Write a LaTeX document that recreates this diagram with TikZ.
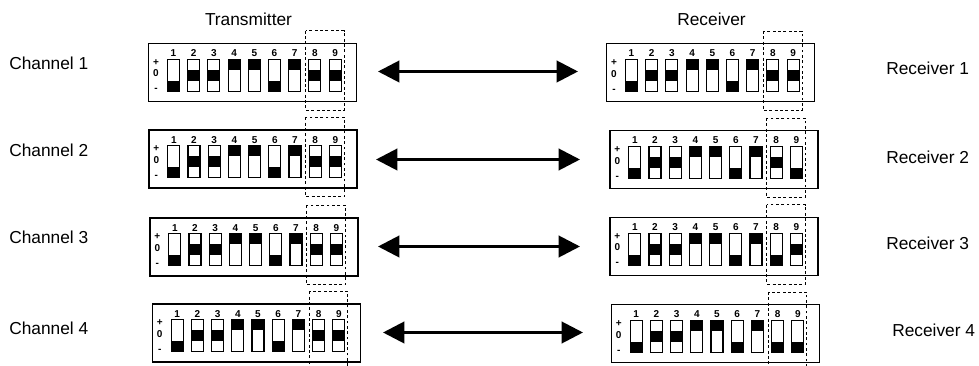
\documentclass[tikz,border=0pt]{standalone}
\usepackage{fontspec}
\setmainfont{Liberation Sans}
\usetikzlibrary{arrows.meta}

\tikzstyle{bank} = [draw=black,line width=1pt,rectangle,anchor=north west,inner sep=0pt,minimum width=156pt,minimum height=43.5pt]
\tikzstyle{slider} = [draw=black,line width=0.8pt]
\tikzstyle{knob} = [fill=black]
\tikzstyle{digit} = [font=\fontsize{7.5}{8}\selectfont\bfseries,inner sep=0pt]
\tikzstyle{group} = [draw=black,line width=0.7pt,dash pattern=on 2.2pt off 1.8pt]
\tikzstyle{link} = [draw=black,line width=2.2pt,{Triangle[length=16pt,width=16pt]}-{Triangle[length=16pt,width=16pt]}]
\tikzstyle{rowtext} = [font=\fontsize{13}{15}\selectfont,inner sep=0pt]

\newcommand{\dipbank}[4]{%
  \begin{scope}[shift={(#2,#3)}]
    \node [style=bank] (#1) at (0,0) {};
    \node [style=digit] (#1-up) at (8,19.6) {+};
    \node [style=digit] (#1-mid) at (8,30.6) {0};
    \node [style=digit] (#1-dn) at (8,47.5) {-};
    \foreach \p [count=\i] in {#4} {
      \pgfmathsetmacro{\sx}{19.5+(\i-1)*20.2}
      \node [style=digit] (#1-n\i) at ({\sx+6},10.5) {\i};
      \fill [style=knob] (\sx,{16.5+\p*10.667}) rectangle ++(12,10.667);
      \draw [style=slider] (\sx,16.5) rectangle ++(12,32);
    }
    \draw [style=group] (157.5,-12) rectangle (196,67.5);
  \end{scope}
}

\begin{document}
\begin{tikzpicture}[x=0.75pt,y=-0.75pt]
    \useasboundingbox (0,0) rectangle (979,366);

    % headings
    \node [style=rowtext] (tx) at (248.5,19) {Transmitter};
    \node [style=rowtext] (rx) at (711.5,19) {Receiver};

    % switch banks: 0 = +, 1 = 0, 2 = -
    \dipbank{tx1}{148}{42.7}{2,1,1,0,0,2,0,1,1}
    \dipbank{tx2}{148.3}{129.3}{2,1,1,0,0,2,0,1,1}
    \dipbank{tx3}{149.3}{217.3}{2,1,1,0,0,2,0,1,1}
    \dipbank{tx4}{151.7}{303.3}{2,1,1,0,0,2,0,1,1}

    \dipbank{rx1}{606}{43}{2,1,1,0,0,2,0,1,1}
    \dipbank{rx2}{609.3}{130}{2,1,1,0,0,2,0,1,2}
    \dipbank{rx3}{609.3}{216.7}{2,1,1,0,0,2,0,2,1}
    \dipbank{rx4}{610.7}{304}{2,1,1,0,0,2,0,2,2}

    % row names
    \node [style=rowtext,anchor=west] (ch1) at (9,63) {Channel 1};
    \node [style=rowtext,anchor=west] (ch2) at (9,150) {Channel 2};
    \node [style=rowtext,anchor=west] (ch3) at (9,237) {Channel 3};
    \node [style=rowtext,anchor=west] (ch4) at (9,328) {Channel 4};

    \node [style=rowtext,anchor=west] (re1) at (886,68) {Receiver 1};
    \node [style=rowtext,anchor=west] (re2) at (886,157) {Receiver 2};
    \node [style=rowtext,anchor=west] (re3) at (886,243) {Receiver 3};
    \node [style=rowtext,anchor=west] (re4) at (892,330) {Receiver 4};

    % pairing arrows
    \coordinate (a1l) at (378,71.5);
    \coordinate (a1r) at (578,71.5);
    \coordinate (a2l) at (376,159.5);
    \coordinate (a2r) at (580,159.5);
    \coordinate (a3l) at (378,246.5);
    \coordinate (a3r) at (580,246.5);
    \coordinate (a4l) at (383,332.5);
    \coordinate (a4r) at (583,332.5);

    \draw [style=link] (a1l) -- (a1r);
    \draw [style=link] (a2l) -- (a2r);
    \draw [style=link] (a3l) -- (a3r);
    \draw [style=link] (a4l) -- (a4r);
\end{tikzpicture}
\end{document}
